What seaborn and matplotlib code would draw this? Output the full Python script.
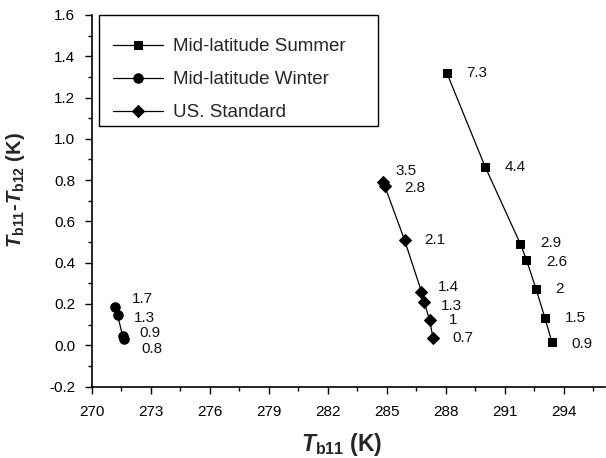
import numpy as np
import pandas as pd
import matplotlib
matplotlib.use("Agg")
import matplotlib.pyplot as plt
from matplotlib.ticker import MultipleLocator, FormatStrFormatter
from matplotlib.patches import Rectangle
import seaborn as sns

# ---- data ----
summer_x = [288.05, 290.0, 291.8, 292.1, 292.6, 293.05, 293.4]
summer_y = [1.32, 0.865, 0.49, 0.415, 0.27, 0.13, 0.015]
summer_lab = ["7.3", "4.4", "2.9", "2.6", "2", "1.5", "0.9"]

winter_x = [271.19, 271.3, 271.56, 271.65]
winter_y = [0.185, 0.145, 0.045, 0.03]
winter_lab = ["1.7", "1.3", "0.9", "0.8"]

us_x = [284.8, 284.9, 285.9, 286.76, 286.9, 287.18, 287.35]
us_y = [0.79, 0.77, 0.51, 0.26, 0.21, 0.12, 0.035]
us_lab = ["3.5", "2.8", "2.1", "1.4", "1.3", "1", "0.7"]

series_names = ["Mid-latitude Summer", "Mid-latitude Winter", "US. Standard"]

# label offsets (points) - layout only
summer_off = [(14, 0), (14, 0), (14, 1), (14, -2), (14, 0), (14, 0), (14, -1)]
winter_off = [(12, 6), (12, -2), (12, 2), (12, -7)]
us_off = [(9, 8), (14, -1), (14, 0), (12, 3), (12, -3), (14, 0), (14, 0)]

sns.set_theme(style="ticks")
plt.rcParams['font.family'] = ['Liberation Sans', 'DejaVu Sans']
plt.rcParams['mathtext.fontset'] = 'custom'
plt.rcParams['mathtext.rm'] = 'Liberation Sans'
plt.rcParams['mathtext.it'] = 'Liberation Sans:italic'
plt.rcParams['mathtext.bf'] = 'Liberation Sans:bold'
plt.rcParams['mathtext.bfit'] = 'Liberation Sans:bold:italic'

W, H = 606, 458
AX_L, AX_R, AX_T, AX_B = 92, 605, 15, 386.5
fig = plt.figure(figsize=(W / 100, H / 100), dpi=100)
ax = fig.add_axes([AX_L / W, 1 - AX_B / H, (AX_R - AX_L) / W, (AX_B - AX_T) / H])

specs = [
    (summer_x, summer_y, summer_lab, summer_off, "s", 6),
    (winter_x, winter_y, winter_lab, winter_off, "o", 6.8),
    (us_x, us_y, us_lab, us_off, "D", 6.3),
]
for (xs, ys, labs, offs, mk, ms), name in zip(specs, series_names):
    df = pd.DataFrame({"x": xs, "y": ys})
    sns.lineplot(data=df, x="x", y="y", sort=False, marker=mk, markersize=ms,
                 color="black", linewidth=0.9, markeredgecolor="black",
                 ax=ax, label=name)
    for x, y, t, o in zip(xs, ys, labs, offs):
        ax.annotate(t, (x, y), xytext=o, textcoords="offset points",
                    fontsize=11, va="center", ha="left", color="#111111")

ax.set_xlim(270, 296.1)
ax.set_ylim(-0.2, 1.6)
ax.xaxis.set_major_locator(MultipleLocator(3))
ax.xaxis.set_minor_locator(MultipleLocator(1.5))
ax.yaxis.set_major_locator(MultipleLocator(0.2))
ax.yaxis.set_minor_locator(MultipleLocator(0.1))
ax.yaxis.set_major_formatter(FormatStrFormatter("%.1f"))
ax.tick_params(which="major", direction="out", length=5, width=1, labelsize=11,
               colors="black")
ax.tick_params(axis="x", which="major", pad=8)
ax.tick_params(axis="y", which="major", pad=7)
ax.tick_params(which="minor", direction="out", length=3, width=1, colors="black")
for s in ["top", "right"]:
    ax.spines[s].set_visible(False)
for s in ["left", "bottom"]:
    ax.spines[s].set_linewidth(1.2)
    ax.spines[s].set_color("black")

ax.set_xlabel(r"$\mathbfit{T}_{\mathbf{b11}}$ (K)", fontsize=16.5, fontweight="bold")
ax.set_ylabel(r"$\mathbfit{T}_{\mathbf{b11}}$-$\mathbfit{T}_{\mathbf{b12}}$ (K)", fontsize=14.5,
              fontweight="bold")
ax.xaxis.set_label_coords((342 - AX_L) / (AX_R - AX_L), (AX_B - 445) / (AX_B - AX_T))
ax.xaxis.label.set_va("center")
ax.yaxis.set_label_coords((16 - AX_L) / (AX_R - AX_L), (AX_B - 190) / (AX_B - AX_T))
ax.yaxis.label.set_va("center")

leg = ax.legend(loc="upper left", bbox_to_anchor=(113 / W, 1 - 38 / H),
                bbox_transform=fig.transFigure, frameon=False,
                fontsize=13.5, handlelength=2.67, labelspacing=0.85,
                borderpad=0.0, handletextpad=0.53, borderaxespad=0.0)
fig.patches.append(Rectangle((99 / W, 1 - 126 / H), (378 - 99) / W, (126 - 15) / H,
                             transform=fig.transFigure, fill=False,
                             edgecolor="black", linewidth=1.0, zorder=5))

fig.savefig("out.png", dpi=100)
